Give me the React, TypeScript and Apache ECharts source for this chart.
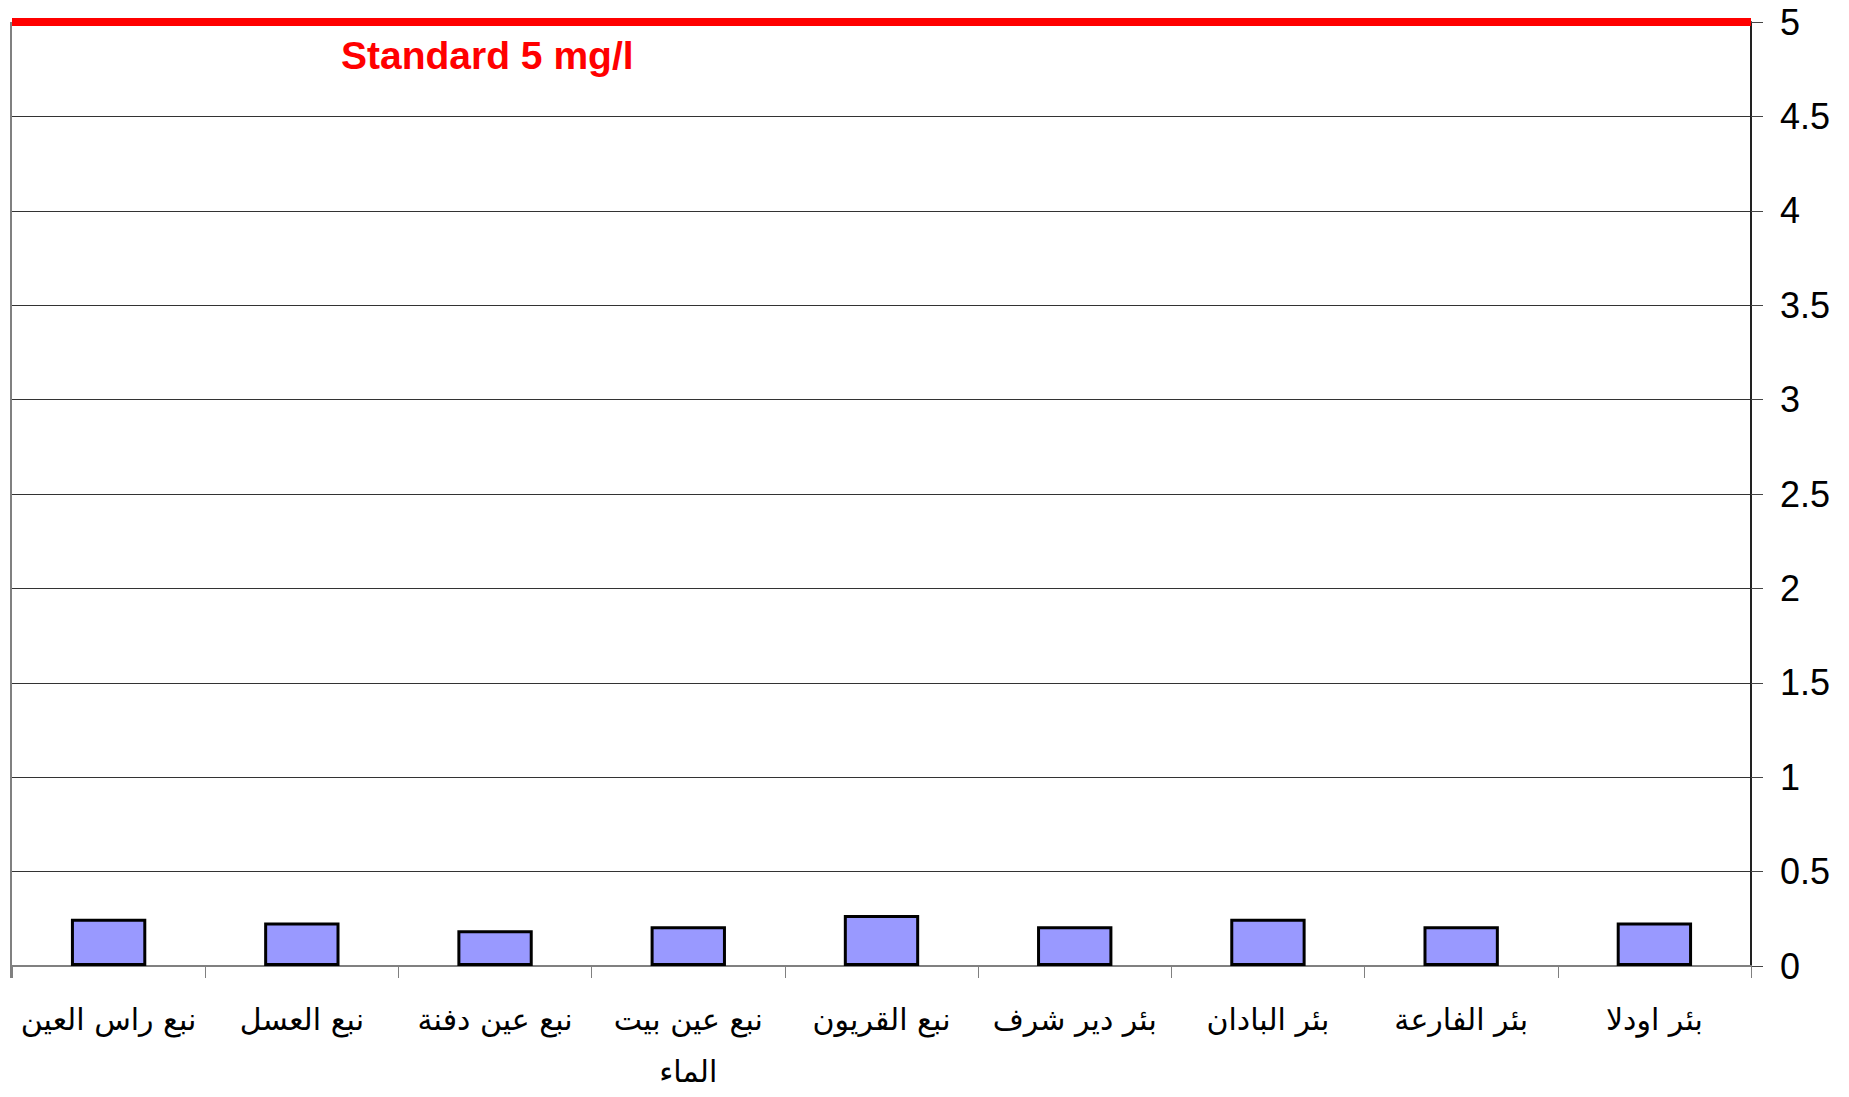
import React, { useEffect, useRef } from "react";
import * as echarts from "echarts";

const categories = [
  "نبع راس العين",
  "نبع العسل",
  "نبع عين دفنة",
  "نبع عين بيت\nالماء",
  "نبع القريون",
  "بئر دير شرف",
  "بئر البادان",
  "بئر الفارعة",
  "بئر اودلا",
];
const values = [0.25, 0.23, 0.19, 0.21, 0.27, 0.21, 0.25, 0.21, 0.23];
const standardValue = 5;
const standardLabel = "Standard 5 mg/l";
const yMin = 0;
const yMax = 5;
const yInterval = 0.5;

export default function App() {
  const ref = useRef<HTMLDivElement>(null);
  useEffect(() => {
    if (!ref.current) return;
    const chart = echarts.init(ref.current, undefined, { renderer: "svg" });
    chart.setOption({
      animation: false,
      backgroundColor: "#ffffff",
      grid: { left: 12, right: 98, top: 22, bottom: 119, containLabel: false },
      xAxis: {
        type: "category",
        data: categories,
        axisLine: { show: true, lineStyle: { color: "#808080", width: 2 } },
        axisTick: { show: true, length: 12, lineStyle: { color: "#808080", width: 1 } },
        axisLabel: {
          color: "#000",
          fontSize: 30,
          lineHeight: 52,
          margin: 27,
          fontFamily: "'DejaVu Sans', Arial, sans-serif",
          interval: 0,
        },
        splitLine: { show: false },
      },
      yAxis: {
        type: "value",
        position: "right",
        min: yMin,
        max: yMax,
        interval: yInterval,
        axisLine: { show: true, lineStyle: { color: "#222", width: 2 } },
        axisTick: { show: true, length: 12, lineStyle: { color: "#444", width: 1 } },
        axisLabel: {
          color: "#000",
          fontSize: 36,
          margin: 29,
          fontFamily: "Arial, 'Liberation Sans', sans-serif",
        },
        splitLine: { show: true, lineStyle: { color: "#333", width: 1 } },
      },
      series: [
        {
          type: "bar",
          data: values,
          barWidth: "39%",
          itemStyle: { color: "#9999FF", borderColor: "#000", borderWidth: 3 },
          markLine: {
            silent: true,
            symbol: "none",
            label: { show: false },
            lineStyle: { color: "#ff0000", width: 8, type: "solid" },
            data: [{ yAxis: standardValue }],
          },
        },
      ],
      graphic: [
        {
          type: "rect",
          left: 10,
          top: 22,
          shape: { width: 2, height: 956 },
          style: { fill: "#808080" },
        },
        {
          type: "text",
          x: 341,
          y: 55,
          style: {
            text: standardLabel,
            fill: "#ff0000",
            font: "bold 39px Arial, 'Liberation Sans', sans-serif",
            textVerticalAlign: "middle",
          },
        },
      ],
    });
    return () => chart.dispose();
  }, []);
  return (
    <div
      ref={ref}
      style={{ position: "fixed", left: 0, top: 0, width: 1849, height: 1097 }}
    />
  );
}
